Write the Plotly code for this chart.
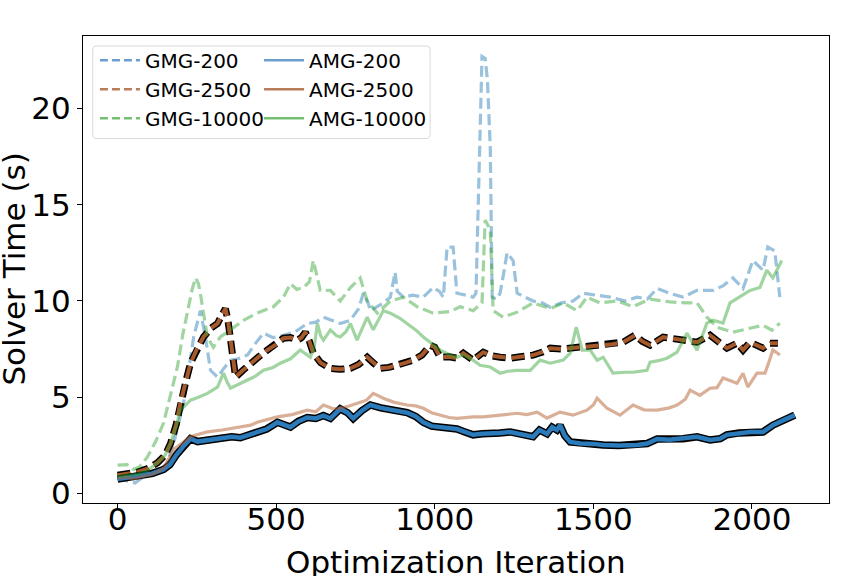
import plotly.graph_objects as go

# ---------------- data ----------------
amg200_x = [0, 25, 50, 80, 110, 145, 165, 185, 210, 230, 252, 280, 310, 334, 360, 387, 415, 440, 470, 504, 525, 545, 570, 598, 625, 649, 671, 702, 725, 743, 770, 797, 830, 860, 890, 913, 940, 964, 990, 1017, 1045, 1070, 1095, 1121, 1150, 1175, 1205, 1238, 1270, 1310, 1330, 1354, 1370, 1385, 1395, 1410, 1427, 1460, 1500, 1531, 1580, 1638, 1670, 1701, 1740, 1783, 1827, 1868, 1900, 1921, 1960, 1994, 2035, 2066, 2098, 2120, 2135]
amg200_y = [0.75, 0.8, 0.85, 0.95, 1.05, 1.25, 1.5, 2.0, 2.5, 2.85, 2.7, 2.75, 2.85, 2.85, 2.95, 2.9, 3.05, 3.2, 3.35, 3.7, 3.55, 3.45, 3.75, 3.95, 3.9, 4.05, 3.9, 4.4, 4.2, 3.9, 4.3, 4.6, 4.45, 4.35, 4.3, 4.2, 4.0, 3.7, 3.5, 3.45, 3.4, 3.35, 3.2, 3.05, 3.1, 3.1, 3.15, 3.2, 3.1, 2.95, 3.3, 3.1, 3.45, 3.3, 3.55, 3.0, 2.68, 2.6, 2.58, 2.52, 2.5, 2.52, 2.6, 2.83, 2.8, 2.85, 2.95, 2.78, 2.85, 3.05, 3.15, 3.2, 3.2, 3.55, 3.8, 4.0, 4.07]

amg2500_x = [0, 25, 50, 80, 110, 145, 177, 200, 230, 260, 283, 330, 387, 420, 440, 470, 504, 550, 598, 625, 649, 680, 702, 730, 755, 785, 806, 838, 870, 913, 940, 964, 990, 1017, 1045, 1070, 1100, 1121, 1153, 1200, 1260, 1290, 1323, 1354, 1395, 1436, 1480, 1500, 1512, 1543, 1584, 1625, 1660, 1701, 1740, 1764, 1790, 1805, 1836, 1868, 1890, 1909, 1953, 1972, 1987, 2016, 2041, 2055, 2066, 2080, 2088]
amg2500_y = [0.8, 0.85, 0.75, 0.9, 1.0, 1.3, 2.3, 2.6, 2.95, 3.1, 3.2, 3.3, 3.45, 3.55, 3.7, 3.85, 3.98, 4.1, 4.33, 4.25, 4.6, 4.4, 4.43, 4.55, 4.7, 4.85, 5.2, 4.95, 4.75, 4.6, 4.55, 4.43, 4.2, 4.07, 3.95, 3.9, 3.95, 3.98, 3.98, 4.05, 4.17, 4.1, 4.23, 3.92, 4.23, 4.07, 4.33, 4.6, 4.95, 4.43, 4.07, 4.6, 4.35, 4.33, 4.45, 4.6, 4.9, 5.37, 5.1, 5.47, 5.5, 6.0, 5.73, 6.25, 5.53, 6.25, 6.25, 6.9, 7.45, 7.3, 7.2]

gmg2500_x = [0, 30, 60, 95, 126, 150, 167, 185, 198, 215, 230, 250, 271, 295, 315, 330, 340, 348, 356, 365, 372, 395, 419, 445, 472, 500, 523, 545, 567, 580, 592, 605, 617, 640, 671, 700, 734, 760, 787, 805, 828, 855, 882, 910, 932, 960, 986, 1000, 1017, 1045, 1070, 1090, 1121, 1153, 1180, 1206, 1238, 1270, 1310, 1340, 1364, 1400, 1449, 1490, 1521, 1560, 1594, 1631, 1655, 1679, 1720, 1750, 1783, 1827, 1868, 1895, 1921, 1953, 1972, 1994, 2015, 2035, 2057, 2082]
gmg2500_y = [0.95, 1.0, 1.1, 1.3, 1.6, 2.0, 2.6, 3.6, 4.7, 5.8, 6.77, 7.5, 8.13, 8.6, 8.83, 9.3, 9.6, 9.0, 8.13, 7.0, 6.05, 6.4, 6.77, 7.1, 7.45, 7.75, 8.07, 8.1, 7.97, 8.1, 8.38, 7.9, 7.29, 6.8, 6.5, 6.45, 6.5, 6.7, 7.08, 6.8, 6.5, 6.55, 6.66, 6.8, 6.93, 7.2, 7.7, 7.6, 7.08, 7.1, 7.03, 7.29, 6.93, 7.34, 7.15, 7.08, 7.03, 7.1, 7.19, 7.35, 7.55, 7.5, 7.6, 7.65, 7.7, 7.75, 7.86, 8.22, 7.9, 7.7, 8.12, 8.05, 7.97, 7.86, 8.22, 7.9, 7.55, 7.81, 7.45, 7.86, 7.7, 7.55, 7.81, 7.81]

gmg200_x = [0, 20, 40, 55, 80, 110, 140, 157, 180, 208, 225, 240, 261, 277, 293, 315, 335, 356, 380, 409, 435, 460, 490, 523, 560, 598, 625, 649, 675, 702, 734, 760, 775, 790, 797, 820, 838, 860, 869, 875, 882, 901, 930, 964, 995, 1015, 1027, 1033, 1039, 1058, 1064, 1070, 1100, 1121, 1130, 1137, 1143, 1149, 1159, 1166, 1175, 1181, 1195, 1206, 1218, 1228, 1247, 1255, 1260, 1285, 1310, 1340, 1364, 1400, 1436, 1468, 1510, 1553, 1600, 1638, 1670, 1701, 1740, 1783, 1827, 1877, 1910, 1940, 1972, 2003, 2035, 2050, 2072, 2080, 2088]
gmg200_y = [0.8, 0.7, 0.6, 0.55, 0.85, 1.0, 1.2, 1.6, 2.8, 4.7, 6.5, 8.13, 9.5, 8.13, 6.4, 6.05, 6.5, 6.93, 7.0, 7.19, 7.8, 8.33, 8.1, 8.22, 8.4, 8.83, 8.9, 9.16, 9.0, 8.83, 9.0, 9.6, 10.4, 9.9, 9.5, 9.7, 9.9, 10.2, 10.9, 11.5, 10.5, 10.2, 10.3, 10.2, 10.7, 10.5, 10.2, 11.5, 12.8, 12.8, 11.5, 10.4, 10.3, 10.2, 10.4, 15.4, 20.0, 22.7, 22.6, 21.5, 18.0, 10.2, 10.1, 10.4, 11.5, 12.5, 12.1, 11.0, 10.4, 10.2, 10.0, 9.9, 9.68, 9.9, 10.0, 10.4, 10.3, 10.2, 10.0, 10.2, 10.1, 10.65, 10.4, 10.2, 10.55, 10.55, 10.8, 11.2, 10.65, 12.1, 11.6, 12.8, 12.6, 11.5, 10.2]

gmg10000_x = [0, 30, 50, 70, 94, 120, 145, 165, 189, 205, 220, 235, 246, 255, 261, 272, 283, 302, 324, 356, 397, 440, 491, 523, 545, 565, 586, 605, 617, 630, 639, 671, 702, 734, 765, 787, 819, 860, 901, 945, 995, 1049, 1080, 1121, 1149, 1155, 1159, 1175, 1180, 1184, 1216, 1260, 1310, 1364, 1405, 1449, 1480, 1521, 1575, 1625, 1679, 1742, 1800, 1827, 1858, 1890, 1940, 1994, 2035, 2063, 2088]
gmg10000_y = [1.48, 1.5, 1.25, 1.4, 1.9, 2.7, 3.66, 5.0, 6.6, 8.2, 9.5, 10.6, 11.2, 10.9, 10.4, 9.2, 8.13, 7.6, 8.13, 8.5, 9.0, 9.37, 9.7, 10.2, 10.9, 10.6, 10.7, 11.0, 12.1, 11.2, 10.55, 10.55, 10.0, 10.7, 11.2, 10.0, 9.37, 10.0, 10.2, 9.7, 9.37, 9.45, 9.7, 9.5, 9.9, 12.5, 14.2, 13.7, 11.5, 9.5, 9.16, 9.42, 9.9, 9.6, 9.9, 9.5, 10.2, 9.9, 10.0, 9.7, 10.1, 9.95, 9.9, 9.9, 9.16, 8.64, 8.38, 8.59, 8.74, 8.48, 8.85]

amg10000_x = [0, 30, 60, 95, 126, 150, 167, 185, 198, 215, 230, 255, 283, 315, 334, 345, 356, 385, 409, 435, 460, 490, 513, 545, 576, 595, 608, 620, 630, 640, 649, 671, 690, 702, 720, 734, 755, 787, 806, 838, 860, 890, 913, 940, 964, 990, 1017, 1049, 1070, 1090, 1121, 1143, 1175, 1206, 1230, 1260, 1301, 1332, 1364, 1405, 1427, 1446, 1465, 1490, 1512, 1531, 1562, 1600, 1625, 1669, 1679, 1705, 1732, 1764, 1795, 1827, 1858, 1877, 1909, 1931, 1962, 1994, 2025, 2047, 2066, 2094]
amg10000_y = [0.9, 0.95, 1.0, 1.2, 1.6, 2.0, 2.6, 3.5, 4.33, 4.6, 4.85, 5.0, 5.2, 5.53, 6.25, 5.8, 5.47, 5.7, 5.89, 6.1, 6.4, 6.55, 6.77, 7.0, 7.45, 7.2, 7.08, 7.6, 8.83, 8.2, 7.97, 8.5, 8.2, 8.13, 8.4, 8.83, 7.97, 9.16, 8.5, 9.5, 9.37, 9.1, 8.83, 8.5, 8.13, 7.8, 7.45, 7.2, 7.08, 7.19, 6.93, 6.66, 6.57, 6.25, 6.35, 6.4, 6.4, 6.93, 6.77, 6.93, 7.29, 8.64, 7.45, 7.45, 6.93, 7.08, 6.25, 6.3, 6.3, 6.4, 6.82, 6.9, 7.03, 7.34, 8.33, 7.45, 8.85, 9.0, 8.85, 9.9, 10.2, 10.55, 10.7, 11.6, 11.2, 12.1]

x_ticks = [0, 500, 1000, 1500, 2000]
y_ticks = [0, 5, 10, 15, 20]
gmg_names = ["GMG-200", "GMG-2500", "GMG-10000"]
amg_names = ["AMG-200", "AMG-2500", "AMG-10000"]
x_title = "Optimization Iteration"
y_title = "Solver Time (s)"

# ---------------- styles ----------------
FONT = "DejaVu Sans"
BLUE_L = "rgba(31,119,180,0.45)"
BROWN_L = "rgba(180,95,50,0.5)"
GREEN_L = "rgba(44,160,44,0.45)"
BLUE_H = "#2b7bba"
BROWN_H = "#a65a2b"
LEG_COLORS = ["#6a9fcf", "#b97c5a", "#74bf72"]
DASH_L = "11px,5px"
DASH_H = "13px,6px"

fig = go.Figure()

def add_line(x, y, color, width, dash=None):
    fig.add_trace(go.Scatter(x=x, y=y, mode="lines", showlegend=False, hoverinfo="skip",
                             line=dict(color=color, width=width, dash=dash)))

# GMG series
add_line(gmg200_x, gmg200_y, BLUE_L, 3.2, DASH_L)
add_line(gmg2500_x, gmg2500_y, "black", 7, DASH_H)
add_line(gmg2500_x, gmg2500_y, BROWN_H, 4, DASH_H)
add_line(gmg10000_x, gmg10000_y, GREEN_L, 3.2, DASH_L)
# AMG series
add_line(amg200_x, amg200_y, "black", 7.5)
add_line(amg200_x, amg200_y, BLUE_H, 4.5)
add_line(amg2500_x, amg2500_y, BROWN_L, 3.2)
add_line(amg10000_x, amg10000_y, GREEN_L, 3.2)

# legend entries
for i, (nm, c) in enumerate(zip(gmg_names, LEG_COLORS)):
    fig.add_trace(go.Scatter(x=[None], y=[None], mode="lines", name=nm, legend="legend",
                             legendgroup="g%d" % i,
                             line=dict(color=c, width=2.5, dash="8px,4px")))
for i, (nm, c) in enumerate(zip(amg_names, LEG_COLORS)):
    fig.add_trace(go.Scatter(x=[None], y=[None], mode="lines", name=nm, legend="legend2",
                             legendgroup="a%d" % i,
                             line=dict(color=c, width=2.5)))

# legend frame (rounded rectangle in paper coords)
x0, x1, y0, y1 = 0.0131, 0.4653, 0.7804, 0.9786
rx, ry = 0.0054, 0.0086
path = (f"M{x0+rx},{y0} L{x1-rx},{y0} Q{x1},{y0} {x1},{y0+ry} L{x1},{y1-ry} Q{x1},{y1} {x1-rx},{y1} "
        f"L{x0+rx},{y1} Q{x0},{y1} {x0},{y1-ry} L{x0},{y0+ry} Q{x0},{y0} {x0+rx},{y0} Z")
fig.add_shape(type="path", path=path, xref="paper", yref="paper",
              line=dict(color="#d9d9d9", width=1), fillcolor="rgba(255,255,255,0.8)", layer="above")

leg_common = dict(font=dict(family=FONT, size=20, color="black"), bgcolor="rgba(0,0,0,0)",
                  borderwidth=0, xanchor="left", yanchor="top", traceorder="grouped",
                  tracegroupgap=0, itemwidth=40)

axis_common = dict(showline=True, linecolor="black", linewidth=1, mirror=True,
                   ticks="outside", ticklen=5, tickwidth=1, tickcolor="black",
                   showgrid=False, zeroline=False,
                   tickfont=dict(family=FONT, size=31, color="black"))

fig.update_layout(
    width=864, height=576,
    margin=dict(l=82.5, r=34.7, t=35.7, b=73, autoexpand=False),
    paper_bgcolor="white", plot_bgcolor="white",
    font=dict(family=FONT, color="black"),
    xaxis=dict(range=[-109, 2243], tickvals=x_ticks, ticktext=[str(v) for v in x_ticks],
               automargin=False, ticklabelstandoff=-16, **axis_common),
    yaxis=dict(range=[-0.49, 23.76], tickvals=y_ticks, ticktext=[str(v) for v in y_ticks],
               automargin=False, **axis_common),
    legend=dict(x=0.016, y=0.990, **leg_common),
    legend2=dict(x=0.236, y=0.990, **leg_common),
)

fig.add_annotation(text=x_title, xref="paper", yref="paper", x=0.5, y=-0.1263,
                   xanchor="center", yanchor="middle", showarrow=False,
                   font=dict(family=FONT, size=31, color="black"))
fig.add_annotation(text=y_title, xref="paper", yref="paper", x=-0.0937, y=0.5,
                   xanchor="center", yanchor="middle", textangle=-90, showarrow=False,
                   font=dict(family=FONT, size=31, color="black"))

fig.write_html("out.html", config={"displayModeBar": False},
               post_script="document.body.style.margin='0px';")
